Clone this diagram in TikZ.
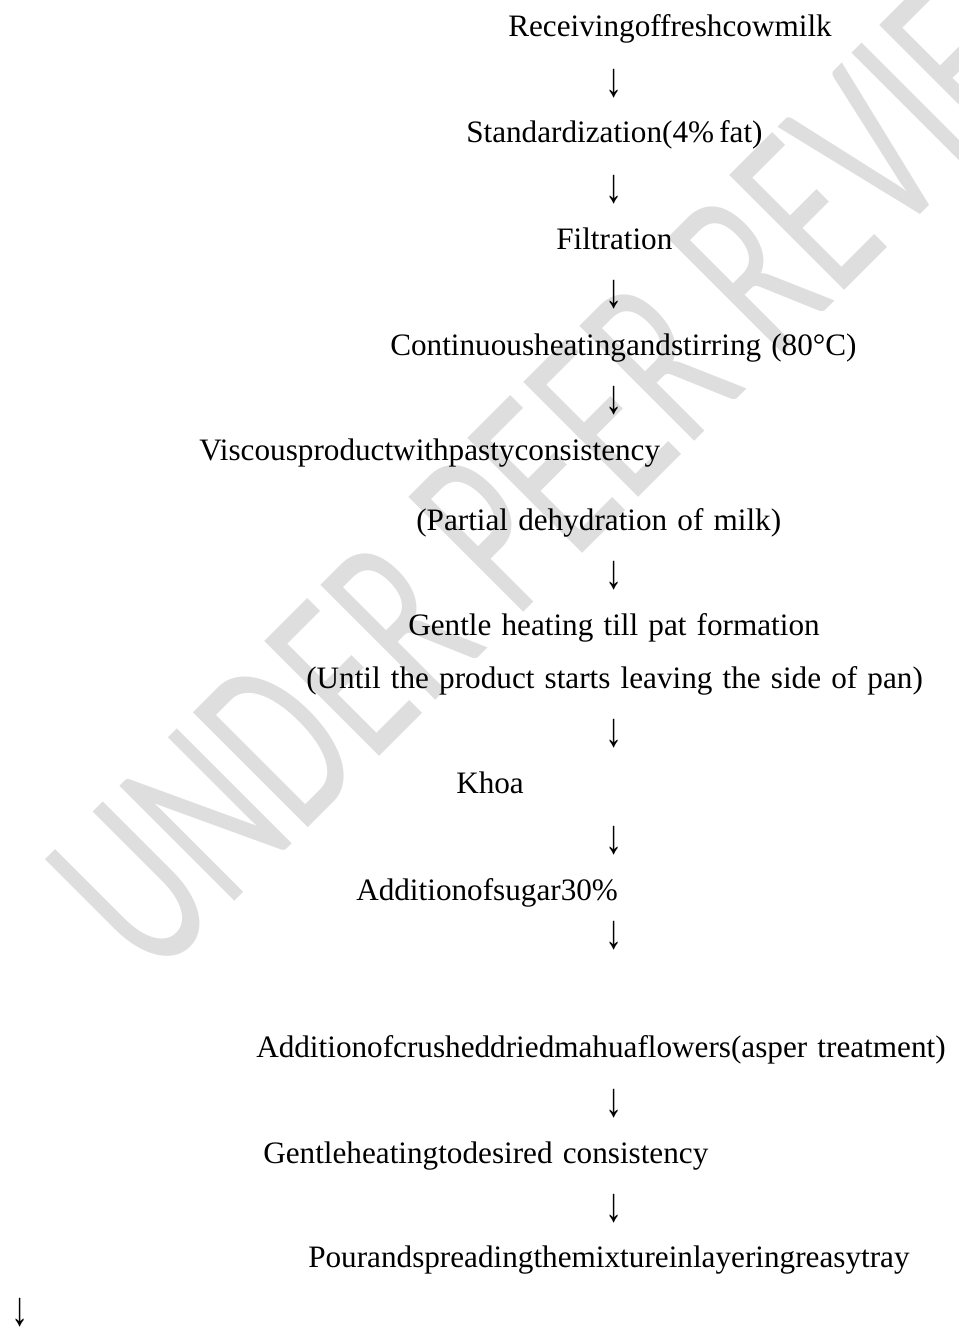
\documentclass[tikz,border=0pt]{standalone}
\usepackage{fontspec}
\setmainfont{Liberation Serif}[WordSpace=1.3]
\newfontfamily\markfont{Carlito}
\usepackage{graphicx}
\usepackage{xcolor}

\begin{document}
\begin{tikzpicture}[x=0.75pt, y=-0.75pt]
    % ================= styles =================
    \tikzset{
        % one step of the process, placed by its baseline
        proc/.style={anchor=base west, inner sep=0pt, font=\fontsize{23.4}{28}\selectfont},
        % the down arrow printed between steps
        darrow/.style={inner sep=0pt, font=\fontsize{23.4}{28}\selectfont},
        % diagonal watermark
        wmark/.style={inner sep=0pt, rotate=45, text=black!13, font=\markfont\fontsize{190}{200}\selectfont}
    }
    \newcommand{\dn}{\scalebox{1.1}[1.55]{↓}}

    \useasboundingbox (0,0) rectangle (959,1327);

    % ================= 0. watermark =================
    \node[wmark] (wm) at (592,430) {\scalebox{0.64}[1]{UNDER PEER REVIEW}};

    % ================= 1. process steps =================
    \node[proc] (recv)    at (508,37)   {Receivingoffreshcowmilk};
    \node[proc] (stdz)    at (466,143)  {Standardization(4\%\,fat)};
    \node[proc] (filt)    at (556,249)  {Filtration};
    \node[proc] (heat)    at (390,355)  {Continuousheatingandstirring (80°C)};
    \node[proc] (visc)    at (199,460)  {Viscousproductwithpastyconsistency};
    \node[proc] (dehyd)   at (416,530)  {(Partial dehydration of milk)};
    \node[proc] (pat)     at (408,635)  {Gentle heating till pat formation};
    \node[proc] (patnote) at (306,688)  {(Until the product starts leaving the side of pan)};
    \node[proc] (khoa)    at (456,793)  {Khoa};
    \node[proc] (sugar)   at (356,900)  {Additionofsugar30\%};
    \node[proc] (mahua)   at (256,1057) {Additionofcrusheddriedmahuaflowers(asper treatment)};
    \node[proc] (consist) at (263,1163) {Gentleheatingtodesired consistency};
    \node[proc] (pour)    at (308,1267) {Pourandspreadingthemixtureinlayeringreasytray};

    % ================= 2. arrows =================
    \node[darrow] (a1)  at (614,84)   {\dn};
    \node[darrow] (a2)  at (614,190)  {\dn};
    \node[darrow] (a3)  at (614,295)  {\dn};
    \node[darrow] (a4)  at (614,401)  {\dn};
    \node[darrow] (a5)  at (614,576)  {\dn};
    \node[darrow] (a6)  at (614,734)  {\dn};
    \node[darrow] (a7)  at (614,841)  {\dn};
    \node[darrow] (a8)  at (614,936)  {\dn};
    \node[darrow] (a9)  at (614,1104) {\dn};
    \node[darrow] (a10) at (614,1209) {\dn};
    \node[darrow] (a11) at (20,1313)  {\dn};

\end{tikzpicture}
\end{document}
